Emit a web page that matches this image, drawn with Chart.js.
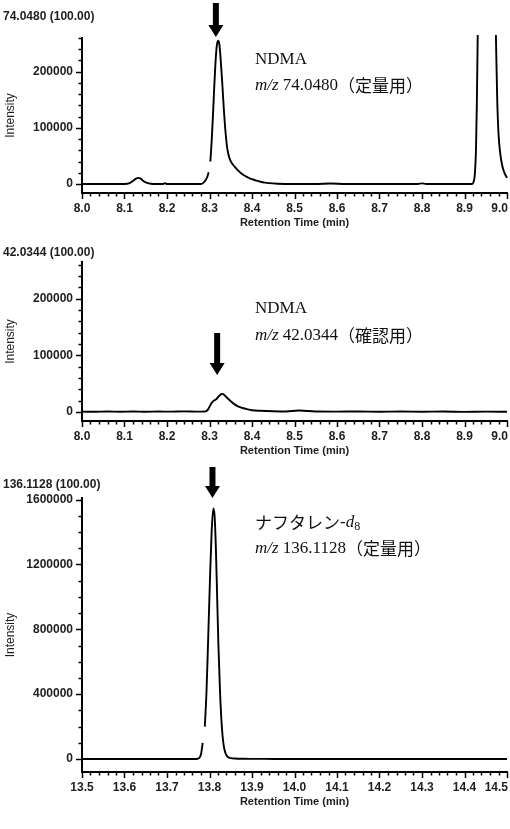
<!DOCTYPE html>
<html>
<head>
<meta charset="utf-8">
<script src="https://cdn.jsdelivr.net/npm/chart.js"></script>
<style>
  html, body { margin: 0; padding: 0; background: #fff; }
  #wrap { position: relative; width: 510px; height: 829px; overflow: hidden; }
  canvas { position: absolute; left: 0; }
</style>
</head>
<body>
<div id="wrap">
  <canvas id="c1" width="510" height="232" style="top:0"></canvas>
  <canvas id="c2" width="510" height="228" style="top:232px"></canvas>
  <canvas id="c3" width="510" height="351" style="top:460px"></canvas>
</div>
<script>
/* Chromatograms: NDMA m/z 74.0480, NDMA m/z 42.0344, naphthalene-d8 m/z 136.1128 */

// panel 1 : m/z 74.0480
const T1 = [8.0, 8.05, 8.1, 8.112, 8.12, 8.127, 8.133, 8.138, 8.145, 8.153, 8.162, 8.172, 8.19, 8.195, 8.2,
  8.25, 8.28, 8.286, 8.291, 8.295, 8.298, 8.3, 8.302, 8.305, 8.308, 8.311, 8.314, 8.317, 8.32, 8.323, 8.326,
  8.33, 8.334, 8.338, 8.342, 8.347, 8.352, 8.36, 8.37, 8.38, 8.39, 8.40, 8.41, 8.42, 8.43, 8.44, 8.46, 8.5,
  8.55, 8.585, 8.62, 8.7, 8.79, 8.8, 8.81, 8.9, 8.918, 8.921, 8.924, 8.927, 8.929, 8.931, 8.935, 8.952,
  8.968, 8.974, 8.977, 8.98, 8.984, 8.989, 8.994, 9.0];
const I1 = [0, 0, 0, 1500, 5500, 9500, 11000, 9500, 5000, 2000, 500, 0, 0, 1500, 0,
  0, 0, 2500, 7000, 13000, 21000, null, 40000, 75000, 120000, 170000, 215000, 245000, 255000, 250000, 225000,
  180000, 130000, 90000, 62000, 46000, 38000, 30000, 22000, 16000, 12000, 8500, 6000, 4000, 2500, 1500, 500, 0,
  0, 1000, 0, 0, 0, 1200, 0, 0, 0, 3000, 15000, 60000, 140000, 260000, 450000, 700000,
  450000, 260000, 150000, 90000, 55000, 32000, 20000, 11000];

// panel 2 : m/z 42.0344
const T2 = [8.0, 8.03, 8.06, 8.09, 8.12, 8.15, 8.18, 8.21, 8.24, 8.27, 8.29, 8.295, 8.3, 8.305, 8.31, 8.315,
  8.32, 8.325, 8.33, 8.335, 8.34, 8.35, 8.36, 8.37, 8.38, 8.39, 8.4, 8.42, 8.45, 8.48, 8.51, 8.55, 8.6, 8.65,
  8.7, 8.75, 8.8, 8.85, 8.9, 8.95, 9.0];
const I2 = [500, 300, 800, 400, 900, 300, 700, 500, 1000, 600, 900, 3000, 9000, 16000, 20000, 22000,
  26000, 30000, 32000, 30000, 26000, 19000, 13000, 9000, 6500, 4500, 3000, 2000, 1200, 900, 2500, 800, 600, 900,
  400, 800, 300, 700, 200, 600, 300];

// panel 3 : m/z 136.1128
const T3 = [13.5, 13.6, 13.7, 13.77, 13.775, 13.78, 13.784, 13.786, 13.789, 13.793, 13.797, 13.801, 13.805,
  13.809, 13.812, 13.815, 13.818, 13.821, 13.825, 13.829, 13.833, 13.837, 13.842, 13.85, 13.86, 13.88, 13.9,
  13.95, 14.0, 14.2, 14.5];
const I3 = [0, 0, 0, 0, 5000, 30000, 100000, null, 200000, 420000, 750000, 1100000, 1400000,
  1545000, 1500000, 1300000, 1000000, 700000, 400000, 200000, 90000, 40000, 15000, 6000, 3000, 1500, 1000,
  500, 0, 0, 0];

// axes
const X_TICKS_A = [8.0, 8.1, 8.2, 8.3, 8.4, 8.5, 8.6, 8.7, 8.8, 8.9, 9.0];
const X_LABELS_A = ["8.0", "8.1", "8.2", "8.3", "8.4", "8.5", "8.6", "8.7", "8.8", "8.9", "9.0"];
const X_TICKS_B = [13.5, 13.6, 13.7, 13.8, 13.9, 14.0, 14.1, 14.2, 14.3, 14.4, 14.5];
const X_LABELS_B = ["13.5", "13.6", "13.7", "13.8", "13.9", "14.0", "14.1", "14.2", "14.3", "14.4", "14.5"];
const Y_TICKS_A = [0, 100000, 200000];
const Y_TICKS_B = [0, 400000, 800000, 1200000, 1600000];

const TITLES = ["74.0480 (100.00)", "42.0344 (100.00)", "136.1128 (100.00)"];
const ARROW_AT = [8.315, 8.318, 13.807];

const SANS = '"Liberation Sans", Arial, sans-serif';
const SERIF = '"Liberation Serif", "Times New Roman", serif';
const CJK = '"Noto Sans CJK JP", sans-serif';
const INK = "#1e1e1e";

function richText(ctx, x, y, parts) {
  ctx.textAlign = "left";
  ctx.textBaseline = "middle";
  parts.forEach(p => {
    ctx.font = p.f;
    ctx.fillText(p.t, x, y + (p.dy || 0));
    x += ctx.measureText(p.t).width;
  });
}

const decor = {
  id: "decor",
  afterDraw(chart, args, o) {
    const ctx = chart.ctx;
    const xs = chart.scales.x, ys = chart.scales.y;
    ctx.save();
    ctx.strokeStyle = "#000";
    ctx.fillStyle = "#000";
    ctx.lineWidth = 1.5;

    // tick marks
    const n = Math.round((xs.max - xs.min) / o.xMinor);
    for (let k = 0; k <= n; k++) {
      const px = Math.round(xs.getPixelForValue(xs.min + k * o.xMinor)) + 0.5;
      const len = k % 5 === 0 ? 6 : 3.5;
      ctx.beginPath();
      ctx.moveTo(px, xs.top);
      ctx.lineTo(px, xs.top + len);
      ctx.stroke();
    }
    for (let v = 0; v <= ys.max; v += o.yMinor) {
      const py = Math.round(ys.getPixelForValue(v)) + 0.5;
      const len = v % o.yMajor === 0 ? 6 : 3.5;
      ctx.beginPath();
      ctx.moveTo(ys.right, py);
      ctx.lineTo(ys.right - len, py);
      ctx.stroke();
    }

    // x tick labels, the last one kept inside the picture
    ctx.fillStyle = INK;
    ctx.font = "bold 12px " + SANS;
    ctx.textAlign = "center";
    ctx.textBaseline = "middle";
    o.xTicks.forEach((v, i) => {
      const w = ctx.measureText(o.xLabels[i]).width;
      const px = Math.min(xs.getPixelForValue(v), chart.width - w / 2 - 2);
      ctx.fillText(o.xLabels[i], px, xs.top + 15.5);
    });

    // trace title
    ctx.textAlign = "left";
    ctx.fillText(o.title, 3, o.titleY);

    // arrow
    const ax = xs.getPixelForValue(o.arrowAt);
    const [y0, y1] = o.arrowY;
    ctx.fillStyle = "#000";
    ctx.beginPath();
    ctx.moveTo(ax - 3, y0);
    ctx.lineTo(ax + 3, y0);
    ctx.lineTo(ax + 3, y1 - 12);
    ctx.lineTo(ax + 7.5, y1 - 12);
    ctx.lineTo(ax, y1);
    ctx.lineTo(ax - 7.5, y1 - 12);
    ctx.lineTo(ax - 3, y1 - 12);
    ctx.closePath();
    ctx.fill();

    // annotation
    ctx.fillStyle = "#111";
    o.note.forEach((line, i) => richText(ctx, 255, o.noteY[i], line));
    ctx.restore();
  }
};

function makePanel(id, t, v, cfg) {
  cfg.decor.xTicks = cfg.xTicks;
  cfg.decor.xLabels = cfg.xLabels;
  new Chart(document.getElementById(id), {
    type: "line",
    data: {
      datasets: [{
        data: t.map((x, i) => ({ x, y: v[i] })),
        borderColor: "#000",
        borderWidth: 1.9,
        pointRadius: 0,
        cubicInterpolationMode: "monotone",
        spanGaps: false,
        clip: { left: 0, top: 3, right: 2, bottom: 0 }
      }]
    },
    options: {
      responsive: false,
      animation: false,
      events: [],
      layout: { autoPadding: false, padding: { top: cfg.padTop, right: 3, bottom: 0, left: 0 } },
      plugins: { legend: { display: false }, tooltip: { enabled: false }, decor: cfg.decor },
      scales: {
        x: {
          type: "linear",
          min: cfg.xMin,
          max: cfg.xMax,
          afterBuildTicks: s => { s.ticks = cfg.xTicks.map(value => ({ value })); },
          afterFit: s => { s.height = 39; s.paddingLeft = 0; s.paddingRight = 0; },
          grid: { drawOnChartArea: false, drawTicks: false },
          border: { color: "#000", width: 2 },
          ticks: { display: false },
          title: {
            display: true, text: "Retention Time (min)", color: INK,
            font: { family: SANS, size: 11, weight: "bold" },
            padding: { top: 0, bottom: 2 }
          }
        },
        y: {
          min: cfg.yMin,
          max: cfg.yMax,
          afterBuildTicks: s => { s.ticks = cfg.yTicks.map(value => ({ value })); },
          afterFit: s => { s.width = 82; s.paddingTop = 0; s.paddingBottom = 0; },
          grid: { drawOnChartArea: false, drawTicks: false },
          border: { color: "#000", width: 2 },
          ticks: {
            padding: 9, color: INK,
            font: { family: SANS, size: 12, weight: "bold" },
            callback: val => String(val)
          },
          title: {
            display: true, text: "Intensity", color: INK,
            font: { family: SANS, size: 12 },
            padding: { top: 3, bottom: 0 }
          }
        }
      }
    },
    plugins: [decor]
  });
}

const serif = "17px " + SERIF;
const serifI = "italic 17px " + SERIF;
const cjk = "17px " + CJK;

makePanel("c1", T1, I1, {
  padTop: 38, xMin: 8.0, xMax: 9.0, yMin: -16000, yMax: 260000,
  xTicks: X_TICKS_A, xLabels: X_LABELS_A, yTicks: Y_TICKS_A,
  decor: {
    xMinor: 0.02, yMinor: 20000, yMajor: 100000,
    title: TITLES[0], titleY: 17, arrowAt: ARROW_AT[0], arrowY: [3, 37],
    noteY: [60, 86],
    note: [
      [{ t: "NDMA", f: serif }],
      [{ t: "m/z", f: serifI }, { t: " 74.0480", f: serif }, { t: "（定量用）", f: cjk }]
    ]
  }
});

makePanel("c2", T2, I2, {
  padTop: 30, xMin: 8.0, xMax: 9.0, yMin: -16000, yMax: 265000,
  xTicks: X_TICKS_A, xLabels: X_LABELS_A, yTicks: Y_TICKS_A,
  decor: {
    xMinor: 0.02, yMinor: 20000, yMajor: 100000,
    title: TITLES[1], titleY: 21, arrowAt: ARROW_AT[1], arrowY: [101, 143],
    noteY: [77, 104],
    note: [
      [{ t: "NDMA", f: serif }],
      [{ t: "m/z", f: serifI }, { t: " 42.0344", f: serif }, { t: "（確認用）", f: cjk }]
    ]
  }
});

makePanel("c3", T3, I3, {
  padTop: 38, xMin: 13.5, xMax: 14.5, yMin: -80000, yMax: 1610000,
  xTicks: X_TICKS_B, xLabels: X_LABELS_B, yTicks: Y_TICKS_B,
  decor: {
    xMinor: 0.02, yMinor: 100000, yMajor: 400000,
    title: TITLES[2], titleY: 25, arrowAt: ARROW_AT[2], arrowY: [7, 38],
    noteY: [63, 89],
    note: [
      [{ t: "ナフタレン", f: cjk }, { t: "-", f: serif }, { t: "d", f: serifI }, { t: "8", f: "12px " + SERIF, dy: 4 }],
      [{ t: "m/z", f: serifI }, { t: " 136.1128", f: serif }, { t: "（定量用）", f: cjk }]
    ]
  }
});
</script>
</body>
</html>
